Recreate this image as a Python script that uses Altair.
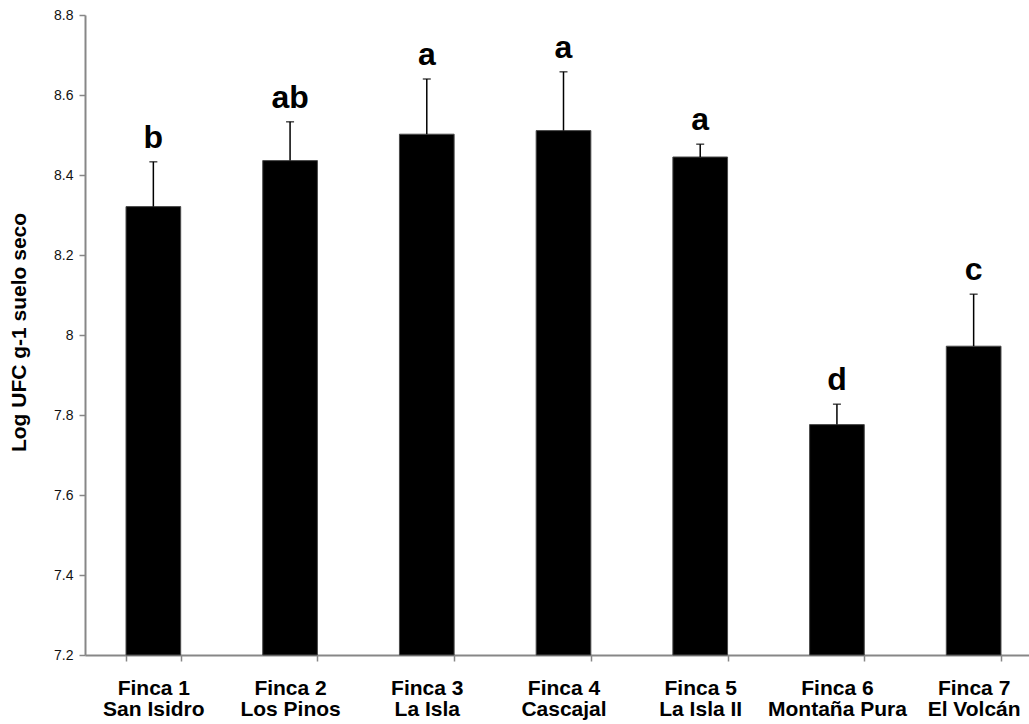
import altair as alt
import pandas as pd

# Soil bacterial counts per farm (log CFU per g of dry soil)
fincas = [
    "Finca 1|San Isidro",
    "Finca 2|Los Pinos",
    "Finca 3|La Isla",
    "Finca 4|Cascajal",
    "Finca 5|La Isla II",
    "Finca 6|Montaña Pura",
    "Finca 7|El Volcán",
]
medias = [8.321, 8.436, 8.502, 8.511, 8.445, 7.776, 7.972]
errores = [0.112, 0.097, 0.138, 0.147, 0.032, 0.051, 0.130]
letras = ["b", "ab", "a", "a", "a", "d", "c"]
y_ticks = [7.2, 7.4, 7.6, 7.8, 8.0, 8.2, 8.4, 8.6, 8.8]
y_min = 7.2

df = pd.DataFrame({
    "finca": fincas,
    "media": medias,
    "base": [y_min] * len(fincas),
    "sup": [m + e for m, e in zip(medias, errores)],
    "letra": letras,
})

FONT = "Liberation Sans"
AXIS_GRAY = "#878787"

x_enc = alt.X(
    "finca:N",
    sort=fincas,
    title=None,
    scale=alt.Scale(range=[0, 957], paddingInner=0.6, paddingOuter=0.3),
    axis=alt.Axis(
        labelExpr="split(datum.label, '|')",
        labelAngle=0,
        labelFont=FONT,
        labelFontSize=21,
        labelFontWeight="bold",
        labelColor="#000000",
        labelLineHeight=21,
        labelPadding=16,
        labelBaseline="top",
        tickBand="extent",
        tickSize=6,
        tickColor=AXIS_GRAY,
        tickWidth=1.5,
        domainColor=AXIS_GRAY,
        domainWidth=2,
    ),
)

y_scale = alt.Scale(domain=[7.2, 8.8], zero=False, nice=False)

bars = alt.Chart(df).mark_bar(color="#000000", stroke="#4a4a4a", strokeWidth=1).encode(
    x=x_enc,
    y=alt.Y(
        "media:Q",
        scale=y_scale,
        title="Log UFC g-1 suelo seco",
        axis=alt.Axis(
            values=y_ticks,
            format="~g",
            grid=False,
            labelFont=FONT,
            labelFontSize=14,
            labelColor="#111111",
            labelPadding=6,
            tickSize=6,
            tickColor=AXIS_GRAY,
            tickWidth=1.5,
            domainColor=AXIS_GRAY,
            domainWidth=2,
            titleFont=FONT,
            titleFontSize=21,
            titleFontWeight="bold",
            titleColor="#000000",
            titleAngle=-90,
            titleX=-66,
            titleY=317,
            titleAlign="center",
            titleBaseline="middle",
        ),
    ),
    y2="base:Q",
)

err = alt.Chart(df).mark_rule(color="#000000", strokeWidth=1.5).encode(
    x=alt.X("finca:N", sort=fincas),
    y=alt.Y("media:Q", scale=y_scale),
    y2="sup:Q",
)

caps = alt.Chart(df).mark_tick(color="#000000", size=8, thickness=1.5, orient="horizontal").encode(
    x=alt.X("finca:N", sort=fincas),
    y=alt.Y("sup:Q", scale=y_scale),
)

labels = alt.Chart(df).mark_text(
    font=FONT, fontSize=32, fontWeight="bold", color="#000000",
    baseline="bottom", dy=-7,
).encode(
    x=alt.X("finca:N", sort=fincas),
    y=alt.Y("sup:Q", scale=y_scale),
    text="letra:N",
)

chart = (
    alt.layer(bars, err, caps, labels)
    .properties(
        width=944,
        height=640,
        autosize=alt.AutoSizeParams(type="none"),
        padding={"left": 85, "top": 15, "right": 0, "bottom": 69},
        background="#ffffff",
    )
    .configure_view(strokeWidth=0)
)

chart.save("out.html", embed_options={"renderer": "svg", "actions": False})
